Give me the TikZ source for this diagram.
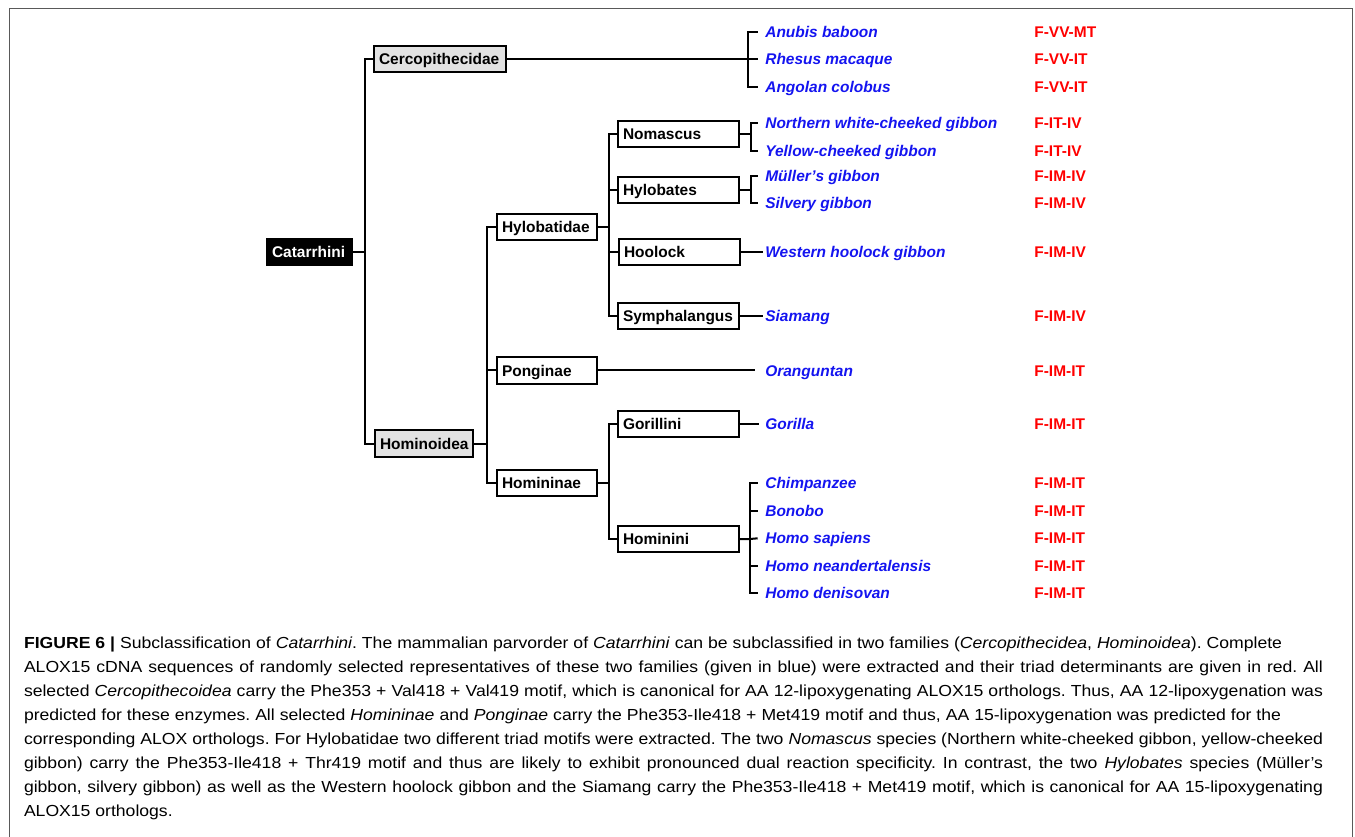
\documentclass[tikz,border=0pt]{standalone}
\usepackage{fontspec}
\setmainfont{Liberation Sans}
\newfontfamily\capfont[FakeStretch=1.1]{Liberation Sans}

\definecolor{spblue}{RGB}{20,20,240}
\definecolor{boxgray}{RGB}{226,226,226}

\begin{document}
\frenchspacing
\begin{tikzpicture}[x=0.75pt, y=-0.75pt, line width=1.5pt,
        taxon/.style={draw, anchor=west, align=left, minimum height=20pt,
            inner xsep=3.75pt, inner ysep=0pt, text height=8.3pt, text depth=0pt,
            font=\bfseries\fontsize{11.6}{14}\selectfont},
        family/.style={taxon, fill=boxgray},
        subfam/.style={taxon, text width=67.5pt},
        genus/.style={taxon, text width=83.25pt},
        species/.style={anchor=west, inner sep=1pt, text height=8.3pt, text depth=0pt,
            text=spblue, font=\bfseries\itshape\fontsize{11.6}{14}\selectfont},
        motif/.style={anchor=west, inner sep=1pt, text height=8.3pt, text depth=0pt,
            text=red, font=\bfseries\fontsize{11.6}{14}\selectfont},
        capline/.style={anchor=base west, inner sep=0pt,
            font=\capfont\fontsize{12}{18}\selectfont}]
        \useasboundingbox (0,0) rectangle (1355,837);
        \draw[black!65, line width=1.2pt] (9.5,845) -- (9.5,8.5) -- (1352.5,8.5) -- (1352.5,845);

        % taxa
        \node[taxon, fill=black, text=white, text width=56.25pt] (catarrhini) at (266,252) {Catarrhini};
        \node[family, text width=91.5pt] (cercopith) at (373,59) {Cercopithecidae};
        \node[family, text width=66pt] (hominoidea) at (374,443.5) {Hominoidea};
        \node[subfam] (hylobatidae) at (496,227) {Hylobatidae};
        \node[subfam] (ponginae) at (496,370.5) {Ponginae};
        \node[subfam] (homininae) at (496,483) {Homininae};
        \node[genus] (nomascus) at (617,134) {Nomascus};
        \node[genus] (hylobates) at (617,190) {Hylobates};
        \node[genus] (hoolock) at (618,252) {Hoolock};
        \node[genus] (symphalangus) at (617,316) {Symphalangus};
        \node[genus] (gorillini) at (617,424) {Gorillini};
        \node[genus] (hominini) at (617,539) {Hominini};

        % species
        \node[species] (anubis) at (763,31.7) {Anubis baboon};
        \node[species] (rhesus) at (763,59) {Rhesus macaque};
        \node[species] (colobus) at (763,87) {Angolan colobus};
        \node[species] (nwcg) at (763,123.3) {Northern white-cheeked gibbon};
        \node[species] (ycg) at (763,150.7) {Yellow-cheeked gibbon};
        \node[species] (muller) at (763,176) {Müller's gibbon};
        \node[species] (silvery) at (763,203.3) {Silvery gibbon};
        \node[species] (whg) at (763,252) {Western hoolock gibbon};
        \node[species] (siamang) at (763,316) {Siamang};
        \node[species] (orang) at (763,370.5) {Oranguntan};
        \node[species] (gorilla) at (763,424) {Gorilla};
        \node[species] (chimp) at (763,482.7) {Chimpanzee};
        \node[species] (bonobo) at (763,510.7) {Bonobo};
        \node[species] (sapiens) at (763,538.3) {Homo sapiens};
        \node[species] (neander) at (763,565.7) {Homo neandertalensis};
        \node[species] (denisovan) at (763,593) {Homo denisovan};

        % triad motifs
        \node[motif] (m-anubis) at (1032,31.7) {F-VV-MT};
        \node[motif] (m-rhesus) at (1032,59) {F-VV-IT};
        \node[motif] (m-colobus) at (1032,87) {F-VV-IT};
        \node[motif] (m-nwcg) at (1032,123.3) {F-IT-IV};
        \node[motif] (m-ycg) at (1032,150.7) {F-IT-IV};
        \node[motif] (m-muller) at (1032,176) {F-IM-IV};
        \node[motif] (m-silvery) at (1032,203.3) {F-IM-IV};
        \node[motif] (m-whg) at (1032,252) {F-IM-IV};
        \node[motif] (m-siamang) at (1032,316) {F-IM-IV};
        \node[motif] (m-orang) at (1032,370.5) {F-IM-IT};
        \node[motif] (m-gorilla) at (1032,424) {F-IM-IT};
        \node[motif] (m-chimp) at (1032,482.7) {F-IM-IT};
        \node[motif] (m-bonobo) at (1032,510.7) {F-IM-IT};
        \node[motif] (m-sapiens) at (1032,538.3) {F-IM-IT};
        \node[motif] (m-neander) at (1032,565.7) {F-IM-IT};
        \node[motif] (m-denisovan) at (1032,593) {F-IM-IT};

        % tree
        \draw (catarrhini.east) -- ++(12,0) |- (cercopith.west);
        \draw (catarrhini.east) -- ++(12,0) |- (hominoidea.west);
        \draw (hominoidea.east) -- ++(12.5,0) |- (hylobatidae.west);
        \draw (hominoidea.east) -- ++(12.5,0) |- (ponginae.west);
        \draw (hominoidea.east) -- ++(12.5,0) |- (homininae.west);
        \draw (hylobatidae.east) -- ++(11,0) |- (nomascus.west);
        \draw (hylobatidae.east) -- ++(11,0) |- (hylobates.west);
        \draw (hylobatidae.east) -- ++(11,0) |- (hoolock.west);
        \draw (hylobatidae.east) -- ++(11,0) |- (symphalangus.west);
        \draw (homininae.east) -- ++(11,0) |- (gorillini.west);
        \draw (homininae.east) -- ++(11,0) |- (hominini.west);

        % brackets to species
        \coordinate (cercopith-b) at ([xshift=-11pt]rhesus.west);
        \coordinate (nomascus-b) at ([xshift=8pt]nomascus.east);
        \coordinate (hylobates-b) at ([xshift=8pt]hylobates.east);
        \coordinate (hominini-b) at ([xshift=7.5pt]hominini.east);
        \draw (cercopith.east) -- ([xshift=-4pt]rhesus.west);
        \draw ([xshift=-4pt]anubis.west) -| (cercopith-b) |- ([xshift=-4pt]colobus.west);
        \draw (nomascus.east) -- (nomascus-b);
        \draw ([xshift=-4pt]nwcg.west) -| (nomascus-b) |- ([xshift=-4pt]ycg.west);
        \draw (hylobates.east) -- (hylobates-b);
        \draw ([xshift=-4pt]muller.west) -| (hylobates-b) |- ([xshift=-4pt]silvery.west);
        \draw (hoolock.east) -- (whg.west);
        \draw (symphalangus.east) -- (siamang.west);
        \draw (ponginae.east) -- ([xshift=-6pt]orang.west);
        \draw (gorillini.east) -- ([xshift=-3pt]gorilla.west);
        \draw (hominini.east) -- (hominini-b) -- ([xshift=-4pt]sapiens.west);
        \draw ([xshift=-4pt]chimp.west) -| (hominini-b) |- ([xshift=-4pt]denisovan.west);
        \draw ([xshift=-4pt]bonobo.west) -- (bonobo.west -| hominini-b);
        \draw ([xshift=-4pt]neander.west) -- (neander.west -| hominini-b);

        % caption
        \node[capline] (cap1) at (23,648.3) {\makebox[943.5pt][s]{\textbf{FIGURE 6 |} Subclassification of \textit{Catarrhini}. The mammalian parvorder of \textit{Catarrhini} can be subclassified in two families (\textit{Cercopithecidea}, \textit{Hominoidea}). Complete}};
        \node[capline] (cap2) at (23,672.3) {\makebox[974.25pt][s]{ALOX15 cDNA sequences of randomly selected representatives of these two families (given in blue) were extracted and their triad determinants are given in red. All}};
        \node[capline] (cap3) at (23,696.3) {\makebox[974.25pt][s]{selected \textit{Cercopithecoidea} carry the Phe353 + Val418 + Val419 motif, which is canonical for AA 12-lipoxygenating ALOX15 orthologs. Thus, AA 12-lipoxygenation was}};
        \node[capline] (cap4) at (23,720.3) {\makebox[942.75pt][s]{predicted for these enzymes. All selected \textit{Homininae} and \textit{Ponginae} carry the Phe353-Ile418 + Met419 motif and thus, AA 15-lipoxygenation was predicted for the}};
        \node[capline] (cap5) at (23,744.3) {\makebox[974.25pt][s]{corresponding ALOX orthologs. For Hylobatidae two different triad motifs were extracted. The two \textit{Nomascus} species (Northern white-cheeked gibbon, yellow-cheeked}};
        \node[capline] (cap6) at (23,768.3) {\makebox[974.25pt][s]{gibbon) carry the Phe353-Ile418 + Thr419 motif and thus are likely to exhibit pronounced dual reaction specificity. In contrast, the two \textit{Hylobates} species (Müller’s}};
        \node[capline] (cap7) at (23,792.3) {\makebox[974.25pt][s]{gibbon, silvery gibbon) as well as the Western hoolock gibbon and the Siamang carry the Phe353-Ile418 + Met419 motif, which is canonical for AA 15-lipoxygenating}};
        \node[capline] (cap8) at (23,816.3) {ALOX15 orthologs.};
    \end{tikzpicture}
\end{document}
